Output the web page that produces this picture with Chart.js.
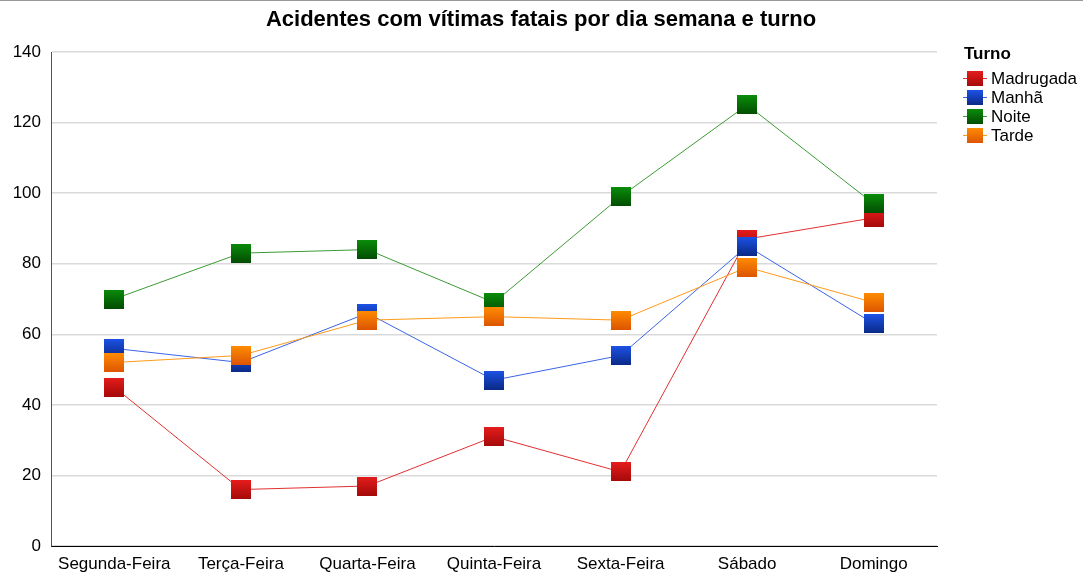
<!DOCTYPE html>
<html><head><meta charset="utf-8">
<script src="https://cdn.jsdelivr.net/npm/chart.js@4/dist/chart.umd.min.js"></script>
<style>html,body{margin:0;padding:0;background:#fff}#wrap{width:1083px;height:573px}</style>
</head><body><div id="wrap"><canvas id="c" width="1083" height="573"></canvas></div>
<script>
const categories = ["Segunda-Feira","Terça-Feira","Quarta-Feira","Quinta-Feira","Sexta-Feira","Sábado","Domingo"];
const madrugada = [45,16,17,31,21,87,93];
const manha = [56,52,66,47,54,85,63];
const noite = [70,83,84,69,99,125,97];
const tarde = [52,54,64,65,64,79,69];
const seriesNames = ["Madrugada","Manhã","Noite","Tarde"];
const yTicks = [0,20,40,60,80,100,120,140];
const chartTitle = "Acidentes com vítimas fatais por dia semana e turno";
const legendTitle = "Turno";

const FONT = "Arial, 'Liberation Sans', sans-serif";
const lineColors = ["#e0302f","#3b64e8","#3c9a34","#ff9a1a"];
const grads = [["#e51c1c","#a50a0a"],["#1c52e6","#0b2a86"],["#0a8c0a","#034d03"],["#ff8c00","#dd5500"]];

function markerCanvas(g, w, h){
  const c = document.createElement('canvas'); c.width = w; c.height = h;
  const x = c.getContext('2d');
  const gr = x.createLinearGradient(0,0,0,h);
  gr.addColorStop(0,g[0]); gr.addColorStop(1,g[1]);
  x.fillStyle = gr; x.fillRect(0,0,w,h);
  return c;
}
const markers = grads.map(g => markerCanvas(g,20,19));
const legMarkers = grads.map(g => markerCanvas(g,16,15));

const dataArrays = [madrugada, manha, noite, tarde];
const datasets = dataArrays.map((d,i)=>({
  label: seriesNames[i], data: d, borderColor: lineColors[i], backgroundColor: lineColors[i],
  borderWidth: 1, pointStyle: markers[i], tension: 0, order: 3 - i, clip: false
}));

const deco = {
  id: 'deco',
  afterDraw(chart){
    const ctx = chart.ctx;
    ctx.save();
    ctx.fillStyle = '#999'; ctx.fillRect(0,0,1083,1);
    ctx.fillStyle = '#000';
    ctx.font = "bold 22px " + FONT; ctx.textAlign = 'center'; ctx.textBaseline = 'middle';
    ctx.fillText(chartTitle, 541, 20);
    ctx.textAlign = 'left';
    ctx.font = "bold 17px " + FONT;
    ctx.fillText(legendTitle, 964, 54);
    ctx.font = "17px " + FONT;
    const ys = [78,97,116,135];
    seriesNames.forEach((n,i)=>{
      const y = ys[i];
      ctx.strokeStyle = lineColors[i]; ctx.lineWidth = 1;
      ctx.beginPath(); ctx.moveTo(963, y+0.5); ctx.lineTo(987, y+0.5); ctx.stroke();
      ctx.drawImage(legMarkers[i], 967, y-7);
      ctx.fillStyle = '#000';
      ctx.fillText(n, 991, y+1);
    });
    ctx.restore();
  }
};

new Chart(document.getElementById('c'), {
  type: 'line',
  data: { labels: categories, datasets },
  plugins: [deco],
  options: {
    responsive: false, animation: false, devicePixelRatio: 1,
    layout: { padding: { top: 52, right: 146, left: 0, bottom: 0 } },
    plugins: { legend: { display: false }, title: { display: false }, tooltip: { enabled: false } },
    scales: {
      x: {
        offset: true,
        grid: { display: false, drawTicks: false },
        border: { display: true, color: '#000', width: 1 },
        ticks: { color: '#000', font: { size: 17, family: FONT }, padding: 8, maxRotation: 0, autoSkip: false },
        afterFit(s){ s.height = 27; }
      },
      y: {
        min: 0, max: 140,
        afterBuildTicks(s){ s.ticks = yTicks.map(v=>({value:v})); },
        grid: { color: '#dadada', drawTicks: false, lineWidth: 1.5 },
        border: { display: true, color: '#555', width: 1 },
        ticks: { color: '#000', font: { size: 17, family: FONT }, padding: 10 },
        afterFit(s){ s.width = 51; }
      }
    }
  }
});
</script></body></html>
